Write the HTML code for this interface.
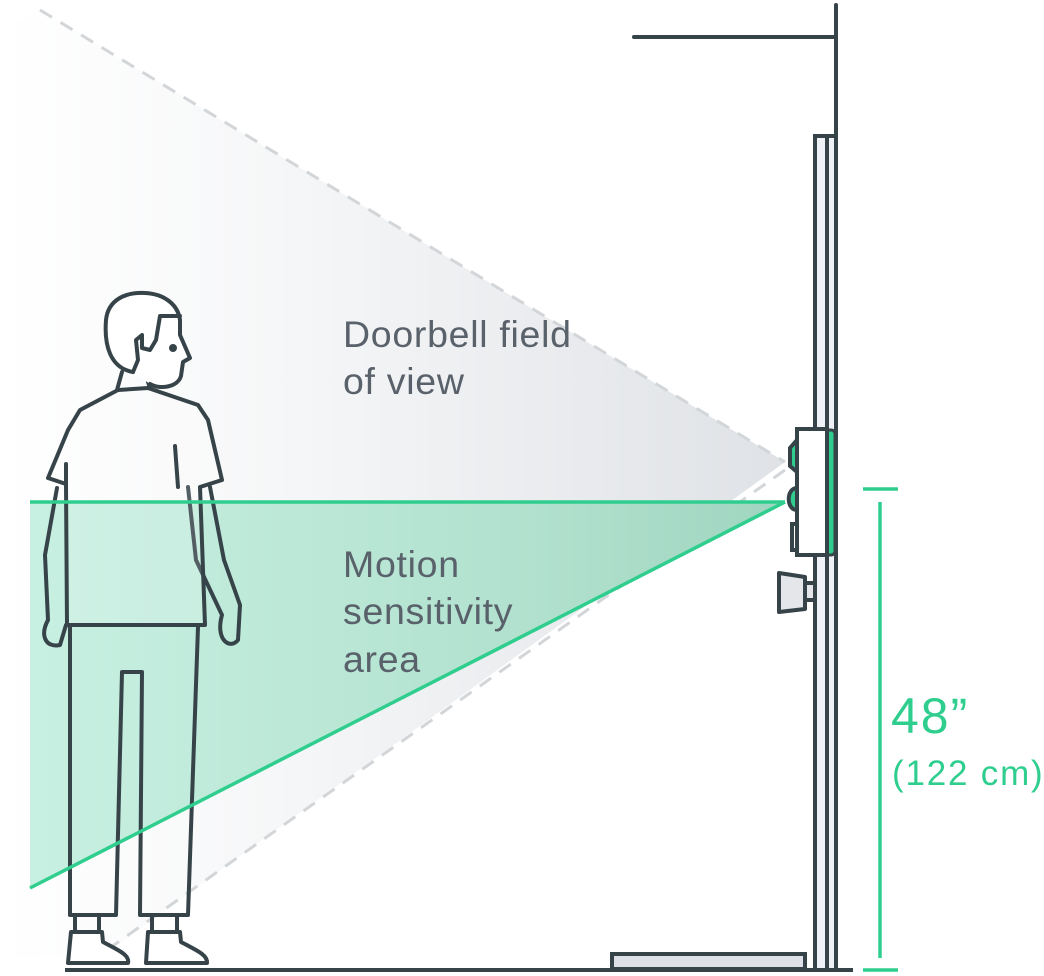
<!DOCTYPE html>
<html><head><meta charset="utf-8"><style>
html,body{margin:0;padding:0;background:#fff;}
svg{display:block;}
text{font-family:"Liberation Sans",sans-serif;}
</style></head><body>
<svg width="1044" height="976" viewBox="0 0 1044 976" xmlns="http://www.w3.org/2000/svg">
<defs>
<linearGradient id="fov" x1="0" y1="0" x2="1" y2="0">
<stop offset="0" stop-color="#ffffff"/>
<stop offset="0.35" stop-color="#f6f7f8"/>
<stop offset="0.75" stop-color="#e8eaed"/>
<stop offset="1" stop-color="#dfe2e6"/>
</linearGradient>
<linearGradient id="grn" x1="0" y1="0" x2="1" y2="0">
<stop offset="0" stop-color="#c8f0e2"/>
<stop offset="0.7" stop-color="#b0e0cd"/>
<stop offset="1" stop-color="#9fd5c0"/>
</linearGradient>
</defs>
<polygon points="40,10 785,462 110,950 0,960 0,30" fill="url(#fov)"/>
<line x1="40" y1="10" x2="785" y2="462" stroke="#d3d6d9" stroke-width="3" stroke-dasharray="14,10"/>
<line x1="785" y1="470" x2="100" y2="955" stroke="#d3d6d9" stroke-width="3" stroke-dasharray="14,10"/>
<polygon points="30,502 785,502 30,888" fill="url(#grn)"/>
<g fill="none" stroke="#364349" stroke-width="4" stroke-linejoin="round" stroke-linecap="round">
<path d="M57,488 L45,555 L48,620 C40,635 45,648 60,645 L66,625"/>
<path d="M188,487 L196,560 L222,615 C215,640 230,650 238,640 L240,605 L224,560 L210,487"/>
<path d="M118,390 L80,410 L68,430 L48,478 L66,484 L67,625 L205,625 L200,487 L222,480 L208,420 L198,405 L148,388 Z" fill="#fff" fill-opacity="0.15"/>
<line x1="66" y1="464" x2="66" y2="484"/>
<line x1="175" y1="446" x2="178" y2="487"/>
<path d="M122,372 L117,390 M148,382 L150,388"/>
<path d="M133,372 C110,368 104,345 106,320 C108,300 125,292 145,293 C165,294 178,305 180,320 L180,335 L190,358 L183,362 L181,376 C178,387 160,390 150,384" fill="#fff"/>
<path d="M180,316 L160,316 L156,340 L150,350 L142,348 L142,335 L136,340 L138,360 L133,372"/>
<circle cx="173" cy="348" r="2" fill="#364349"/>
<path d="M70,627 L70,915 L116,915 L122,672 L142,672 L140,915 L188,915 L198,627"/>
<path d="M75,915 L75,932 L99,932 L99,915 M152,915 L152,932 L177,932 L177,915"/>
<path d="M71,932 L68,963 L128,963 C130,955 118,950 103,942 L102,932 Z" fill="#fff"/>
<path d="M148,932 L146,963 L207,963 C208,955 196,950 181,942 L180,932 Z" fill="#fff"/>
</g>
<line x1="30" y1="502" x2="785" y2="502" stroke="#2fce8e" stroke-width="3.5"/>
<line x1="785" y1="502" x2="30" y2="888" stroke="#2fce8e" stroke-width="3.5"/>
<g stroke="#364349" stroke-width="4" stroke-linecap="round">
<line x1="836" y1="5" x2="836" y2="970"/>
<line x1="634" y1="37" x2="836" y2="37"/>
</g>
<rect x="815" y="136" width="21" height="834" fill="#eef1f5" stroke="#364349" stroke-width="4"/>
<line x1="827" y1="136" x2="827" y2="970" stroke="#364349" stroke-width="4"/>
<line x1="65" y1="970" x2="853" y2="970" stroke="#364349" stroke-width="4"/>
<rect x="612" y="954" width="193" height="15" fill="#dde0e6" stroke="#364349" stroke-width="4"/>
<path d="M797,440 L790,448 L790,466 L797,472 Z" fill="#2fce8e" stroke="#364349" stroke-width="4"/>
<path d="M797,488 C786,488 786,510 797,510 Z" fill="#2fce8e" stroke="#364349" stroke-width="4"/>
<rect x="792" y="524" width="6" height="26" fill="#fff" stroke="#364349" stroke-width="4"/>
<rect x="825" y="430" width="10" height="125" rx="4" fill="#2fce8e" stroke="#364349" stroke-width="3"/>
<rect x="797" y="429" width="30" height="126" fill="#fff" stroke="#364349" stroke-width="4"/>
<rect x="804" y="583" width="11" height="17" fill="#e4e6ea" stroke="#364349" stroke-width="4"/>
<path d="M779,573 L805,577 L805,609 L779,612 Z" fill="#e4e6ea" stroke="#364349" stroke-width="4" stroke-linejoin="round"/>
<g stroke="#2fce8e" stroke-width="3.5">
<line x1="863" y1="489" x2="898" y2="489"/>
<line x1="880" y1="502" x2="880" y2="958"/>
<line x1="863" y1="970" x2="898" y2="970"/>
</g>
<text x="891" y="733" font-size="50" letter-spacing="2" fill="#2fce8e">48”</text>
<text x="892" y="785" font-size="35" letter-spacing="1.8" fill="#2fce8e">(122 cm)</text>
<g font-size="37.5" fill="#59616a" letter-spacing="0.7">
<text x="343" y="347">Doorbell field</text>
<text x="343" y="394">of view</text>
<text x="343" y="577">Motion</text>
<text x="343" y="624">sensitivity</text>
<text x="343" y="672">area</text>
</g>
</svg>
</body></html>
